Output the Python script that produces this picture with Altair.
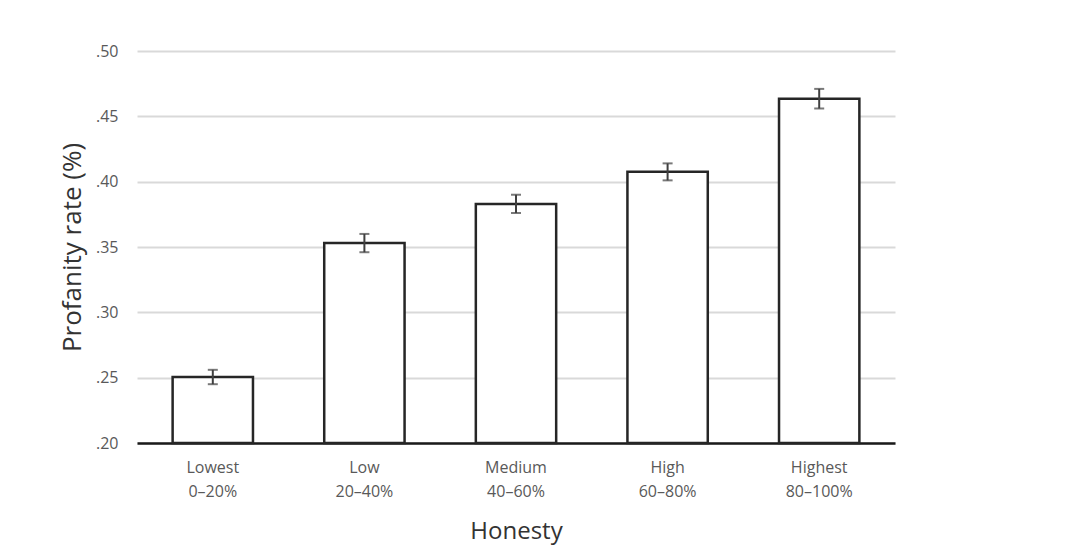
import altair as alt
import pandas as pd

categories = ["Lowest\n0–20%", "Low\n20–40%", "Medium\n40–60%", "High\n60–80%", "Highest\n80–100%"]
rates = [0.2505, 0.353, 0.383, 0.4075, 0.4635]
errors = [0.0055, 0.007, 0.007, 0.0065, 0.0075]

df = pd.DataFrame({
    "cat": categories,
    "rate": rates,
    "lo": [r - e for r, e in zip(rates, errors)],
    "hi": [r + e for r, e in zip(rates, errors)],
})

FONT = "Open Sans"
TXT = "#595959"

x = alt.X("cat:N", sort=categories, title="Honesty",
          scale=alt.Scale(paddingInner=0.47, paddingOuter=0.235),
          axis=alt.Axis(labelAngle=0, labelExpr="split(datum.label, '\\n')",
                        labelFontSize=16, labelColor=TXT, labelFont=FONT,
                        labelLineHeight=24, labelPadding=16, ticks=False, grid=False,
                        domainColor="#1a1a1a", domainWidth=2.5,
                        titleFontSize=24, titleColor="#333333", titleFont=FONT,
                        titleFontWeight="normal", titlePadding=20))

yscale = alt.Scale(domain=[0.2, 0.5], zero=False, nice=False)

bars = alt.Chart(df).mark_bar(fill="white", stroke="#262626", strokeWidth=2.5).encode(
    x=x,
    y=alt.Y("rate:Q", scale=yscale, title="Profanity rate (%)",
            axis=alt.Axis(values=[0.2, 0.25, 0.3, 0.35, 0.4, 0.45, 0.5],
                          labelExpr="replace(format(datum.value, '.2f'), '0.', '.')",
                          labelFontSize=16, labelColor=TXT, labelFont=FONT,
                          labelPadding=19, ticks=False, domain=False,
                          gridColor="#d9d9d9", gridWidth=2,
                          titleFontSize=26, titleColor="#333333", titleFont=FONT,
                          titleFontWeight="normal", titlePadding=10)),
    y2=alt.datum(0.2),
)

rules = alt.Chart(df).mark_rule(color="#404040", strokeWidth=2).encode(
    x=alt.X("cat:N", sort=categories),
    y=alt.Y("lo:Q", scale=yscale),
    y2="hi:Q",
)
caps_hi = alt.Chart(df).mark_tick(color="#404040", thickness=2, size=10, orient="horizontal").encode(
    x=alt.X("cat:N", sort=categories),
    y=alt.Y("hi:Q", scale=yscale),
)
caps_lo = alt.Chart(df).mark_tick(color="#404040", thickness=2, size=10, orient="horizontal").encode(
    x=alt.X("cat:N", sort=categories),
    y=alt.Y("lo:Q", scale=yscale),
)

chart = alt.layer(bars, rules, caps_hi, caps_lo).properties(
    width=758, height=392,
    background="white",
    autosize=alt.AutoSizeParams(type="none"),
    padding={"left": 129, "top": 43, "right": 150, "bottom": 108},
).configure_view(strokeWidth=0).configure_axisX(grid=False)

chart.save("out.html", embed_options={"renderer": "svg", "actions": False})
